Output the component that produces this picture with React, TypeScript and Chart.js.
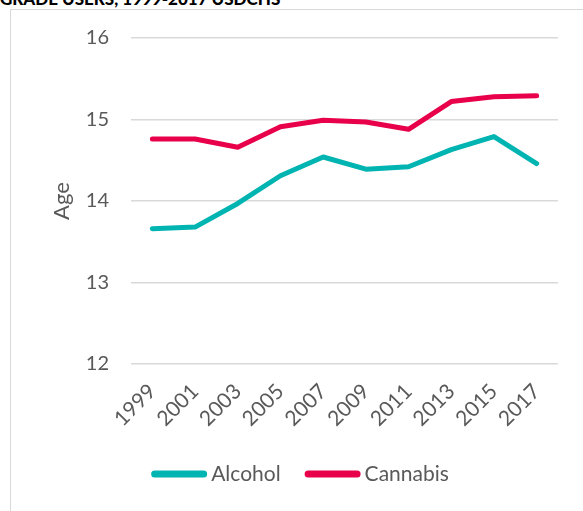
import React, { useEffect, useRef } from "react";
import { Chart, registerables } from "chart.js";

Chart.register(...registerables);

const years = ["1999", "2001", "2003", "2005", "2007", "2009", "2011", "2013", "2015", "2017"];
const alcohol = [13.66, 13.68, 13.97, 14.31, 14.54, 14.39, 14.42, 14.63, 14.79, 14.46];
const cannabis = [14.76, 14.76, 14.66, 14.91, 14.99, 14.97, 14.88, 15.22, 15.28, 15.29];
const yTicks = [12, 13, 14, 15, 16];

const FONT = "Lato, 'Open Sans', sans-serif";
const TEXT = "#595959";
const TEAL = "#00B4B2";
const RED = "#E8004B";

const legendPlugin = {
  id: "lineLegend",
  afterDraw(chart: any) {
    const ctx = chart.ctx;
    const size = 21;
    ctx.save();
    ctx.font = `${size}px ${FONT}`;
    const sample = 56;
    const gap = 4;
    const between = 24;
    const items = chart.data.datasets.map((d: any) => ({
      label: d.label,
      color: d.borderColor,
      w: sample + gap + ctx.measureText(d.label).width,
    }));
    const total = items.reduce((a: number, b: any) => a + b.w, 0) + between * (items.length - 1);
    let x = 300 - total / 2;
    const y = 474;
    items.forEach((it: any) => {
      ctx.strokeStyle = it.color;
      ctx.lineWidth = 7;
      ctx.lineCap = "round";
      ctx.beginPath();
      ctx.moveTo(x + 3.5, y);
      ctx.lineTo(x + sample - 3.5, y);
      ctx.stroke();
      ctx.fillStyle = TEXT;
      ctx.textBaseline = "middle";
      ctx.textAlign = "left";
      ctx.fillText(it.label, x + sample + gap, y);
      x += it.w + between;
    });
    ctx.restore();
  },
};

export default function App() {
  const ref = useRef<HTMLCanvasElement | null>(null);

  useEffect(() => {
    const canvas = ref.current;
    if (!canvas) return;
    const chart = new Chart(canvas, {
      type: "line",
      data: {
        labels: years,
        datasets: [
          {
            label: "Alcohol",
            data: alcohol,
            borderColor: TEAL,
            backgroundColor: TEAL,
            borderWidth: 5,
            pointRadius: 0,
            tension: 0,
            borderCapStyle: "round",
            borderJoinStyle: "round",
          },
          {
            label: "Cannabis",
            data: cannabis,
            borderColor: RED,
            backgroundColor: RED,
            borderWidth: 5,
            pointRadius: 0,
            tension: 0,
            borderCapStyle: "round",
            borderJoinStyle: "round",
          },
        ],
      },
      plugins: [legendPlugin],
      options: {
        animation: false,
        responsive: false,
        maintainAspectRatio: false,
        layout: { padding: { top: 38, right: 25, left: 0, bottom: 61 } },
        plugins: {
          tooltip: { enabled: false },
          legend: { display: false },
        },
        scales: {
          x: {
            offset: true,
            grid: { display: false, drawTicks: false },
            border: { display: false },
            ticks: {
              font: { family: FONT, size: 21 },
              color: TEXT,
              minRotation: 45,
              maxRotation: 45,
              padding: 15,
              autoSkip: false,
            },
            afterFit: (s: any) => {
              s.height = 86;
            },
          },
          y: {
            min: 12,
            max: 16,
            afterBuildTicks: (s: any) => {
              s.ticks = yTicks.map((v) => ({ value: v }));
            },
            grid: { color: "#D9D9D9", lineWidth: 1.5, drawTicks: false },
            border: { display: false },
            ticks: {
              font: { family: FONT, size: 20 },
              color: TEXT,
              padding: 22,
            },
            title: {
              display: true,
              text: "Age",
              font: { family: FONT, size: 22 },
              color: TEXT,
              padding: { top: 49, bottom: 0 },
            },
            afterFit: (s: any) => {
              s.width = 131;
            },
          },
        },
      },
    });
    return () => chart.destroy();
  }, []);

  return (
    <div
      style={{
        position: "absolute",
        left: 0,
        top: 0,
        width: 583,
        height: 511,
        overflow: "hidden",
        background: "#fff",
      }}
    >
      <div
        style={{
          position: "absolute",
          left: 0,
          top: -12,
          fontFamily: "Lato, sans-serif",
          fontWeight: 900,
          fontSize: 17,
          whiteSpace: "nowrap",
          color: "#000",
        }}
      >
        GRADE USERS, 1999-2017 USDCHS
      </div>
      <div
        style={{
          position: "absolute",
          left: 10,
          top: 9,
          width: 700,
          height: 700,
          border: "1.5px solid #D9D9D9",
        }}
      />
      <canvas
        ref={ref}
        width={583}
        height={511}
        style={{ position: "absolute", left: 0, top: 0, width: 583, height: 511 }}
      />
    </div>
  );
}
